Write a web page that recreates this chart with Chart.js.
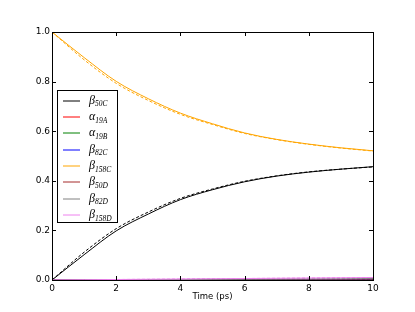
<!DOCTYPE html>
<html>
<head>
<meta charset="utf-8">
<script src="https://cdn.jsdelivr.net/npm/chart.js@4/dist/chart.umd.min.js"></script>
<style>
  body { margin: 0; background: #fff; }
  canvas { display: block; }
</style>
</head>
<body>
<canvas id="chart" width="415" height="312"></canvas>
<script>
// time axis (ps)
const times = [0, 1, 2, 3, 4, 5, 6, 7, 8, 9, 10];

// legend labels: greek letter + subscript
const names = [
  ['β', '50C'], ['α', '19A'], ['α', '19B'], ['β', '82C'],
  ['β', '158C'], ['β', '50D'], ['β', '82D'], ['β', '158D']
];
const colors = ['#000000', '#ff0000', '#008000', '#0000ff', '#ffa500', '#a52a2a', '#808080', '#ee82ee'];

// solid curves
const b50C  = [0, 0.102, 0.198, 0.266, 0.324, 0.364, 0.396, 0.419, 0.435, 0.447, 0.457];
const a19A  = [0, 0, 0, 0, 0, 0, 0, 0, 0, 0, 0];
const a19B  = [0, 0, 0, 0, 0, 0, 0, 0, 0, 0, 0];
const b82C  = [0, 0, 0, 0, 0, 0, 0, 0, 0, 0, 0];
const b158C = [1.0, 0.897, 0.801, 0.731, 0.673, 0.630, 0.593, 0.567, 0.548, 0.533, 0.521];
const b50D  = [0, 0, 0, 0, 0, 0, 0, 0, 0, 0, 0];
const b82D  = [0, 0.0005, 0.001, 0.0015, 0.002, 0.003, 0.0035, 0.004, 0.0045, 0.005, 0.006];
const b158D = [0, 0.001, 0.002, 0.003, 0.004, 0.005, 0.006, 0.007, 0.008, 0.009, 0.010];

// dashed curves
const b50C_d  = [0, 0.112, 0.207, 0.274, 0.329, 0.367, 0.398, 0.420, 0.436, 0.447, 0.456];
const b158C_d = [1.0, 0.888, 0.793, 0.724, 0.668, 0.627, 0.591, 0.566, 0.547, 0.532, 0.520];
const b82D_d  = [0, 0.0005, 0.001, 0.0015, 0.002, 0.003, 0.0035, 0.004, 0.0045, 0.005, 0.006];
const b158D_d = [0, 0.001, 0.002, 0.003, 0.004, 0.005, 0.006, 0.007, 0.008, 0.009, 0.010];

const solidSeries = [b50C, a19A, a19B, b82C, b158C, b50D, b82D, b158D];
const dashedSeries = [b50C_d, a19A, a19B, b82C, b158C_d, b50D, b82D_d, b158D_d];

const xTicks = [0, 2, 4, 6, 8, 10];
const yTicks = [0, 0.2, 0.4, 0.6, 0.8, 1.0];

function pts(vals) {
  return times.map((t, i) => ({ x: t, y: vals[i] }));
}

let datasets = [];
solidSeries.forEach((s, i) => {
  datasets.push({ label: names[i].join(''), data: pts(s), borderColor: colors[i], borderWidth: 1 });
});
dashedSeries.forEach((s, i) => {
  datasets.push({ label: names[i].join('') + ' dashed', data: pts(s), borderColor: colors[i], borderWidth: 1, borderDash: [3, 2] });
});
datasets.forEach((d, i) => {
  d.pointRadius = 0;
  d.cubicInterpolationMode = 'monotone';
  d.order = 100 - i;
  d.fill = false;
});

// box + inward ticks like matplotlib
const framePlugin = {
  id: 'frame',
  afterDatasetsDraw(chart) {
    const { ctx, chartArea: a, scales: { x, y } } = chart;
    ctx.save();
    ctx.strokeStyle = '#000';
    ctx.lineWidth = 1;
    ctx.beginPath();
    xTicks.forEach(v => {
      const px = Math.round(x.getPixelForValue(v)) + 0.5;
      ctx.moveTo(px, a.bottom); ctx.lineTo(px, a.bottom - 4);
      ctx.moveTo(px, a.top); ctx.lineTo(px, a.top + 4);
    });
    yTicks.forEach(v => {
      const py = Math.round(y.getPixelForValue(v)) + 0.5;
      ctx.moveTo(a.left, py); ctx.lineTo(a.left + 4, py);
      ctx.moveTo(a.right, py); ctx.lineTo(a.right - 4, py);
    });
    ctx.stroke();
    ctx.strokeRect(Math.round(a.left) + 0.5, Math.round(a.top) + 0.5,
      Math.round(a.right - a.left), Math.round(a.bottom - a.top));
    ctx.restore();
  }
};

// legend with subscripts
const legendPlugin = {
  id: 'subLegend',
  afterDraw(chart) {
    const ctx = chart.ctx;
    const bx = 57.5, by = 90.5, bw = 60, bh = 132;
    ctx.save();
    ctx.fillStyle = '#fff';
    ctx.fillRect(bx, by, bw, bh);
    ctx.strokeStyle = '#000';
    ctx.lineWidth = 1;
    ctx.strokeRect(bx, by, bw, bh);
    names.forEach((n, i) => {
      const cy = 100.7 + i * 16.35;
      ctx.strokeStyle = colors[i];
      ctx.beginPath();
      ctx.moveTo(63, Math.round(cy));
      ctx.lineTo(80, Math.round(cy));
      ctx.stroke();
      ctx.fillStyle = '#000';
      ctx.textBaseline = 'alphabetic';
      ctx.font = 'italic 12px "Liberation Serif"';
      ctx.fillText(n[0], 89, cy + 3);
      const w = ctx.measureText(n[0]).width;
      ctx.font = 'italic 7.5px "Liberation Serif"';
      ctx.fillText(n[1], 89 + w, cy + 5.5);
    });
    ctx.restore();
  }
};

new Chart(document.getElementById('chart'), {
  type: 'line',
  data: { datasets: datasets },
  options: {
    responsive: false,
    animation: false,
    layout: { padding: { left: 0, top: 32, right: 42, bottom: 0 } },
    plugins: { legend: { display: false }, tooltip: { enabled: false } },
    scales: {
      x: {
        type: 'linear', min: 0, max: 10,
        afterBuildTicks: s => { s.ticks = xTicks.map(v => ({ value: v })); },
        afterFit: s => { s.height = 32; },
        grid: { display: false, drawTicks: false },
        border: { display: false },
        ticks: { padding: 3, color: '#000', font: { family: 'DejaVu Sans', size: 9 }, maxRotation: 0 },
        title: { display: true, text: 'Time (ps)', color: '#000', font: { family: 'DejaVu Sans', size: 8.5 }, padding: { top: 0, bottom: 10 } }
      },
      y: {
        type: 'linear', min: 0, max: 1,
        afterBuildTicks: s => { s.ticks = yTicks.map(v => ({ value: v })); },
        afterFit: s => { s.width = 52; },
        grid: { display: false, drawTicks: false },
        border: { display: false },
        ticks: { padding: 2, color: '#000', font: { family: 'DejaVu Sans', size: 9 }, callback: v => v.toFixed(1) }
      }
    }
  },
  plugins: [framePlugin, legendPlugin]
});
</script>
</body>
</html>
